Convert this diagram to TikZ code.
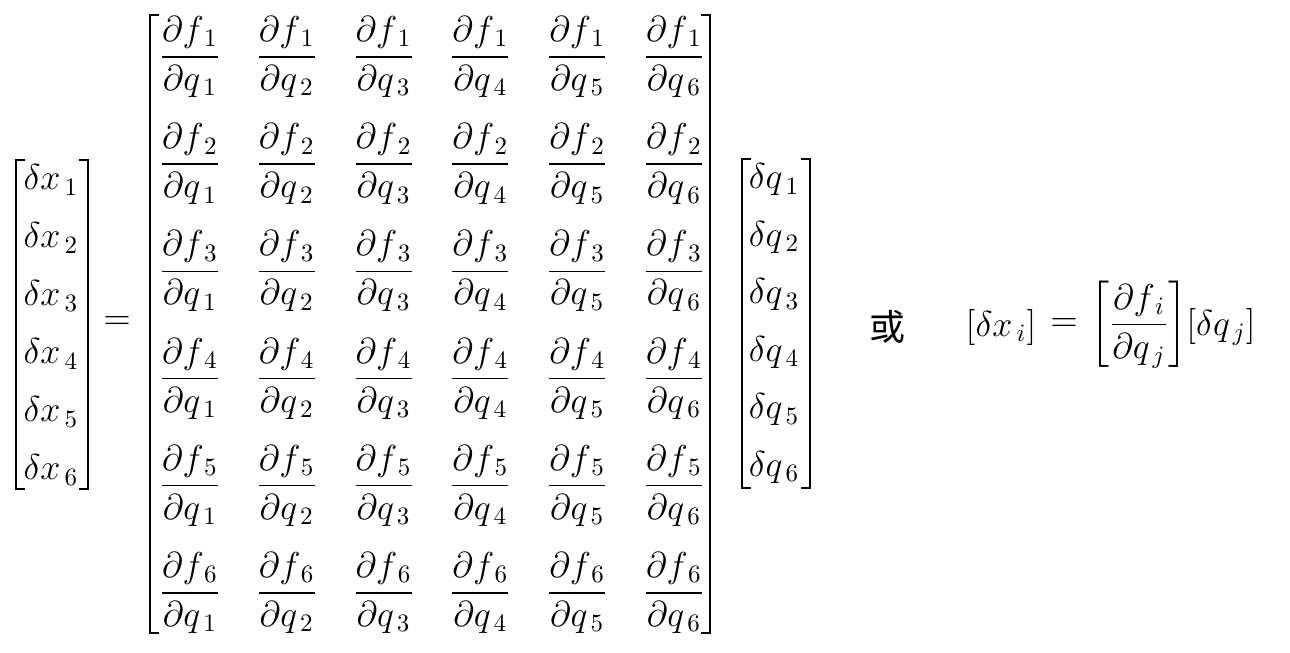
\documentclass[tikz,border=0pt]{standalone}
\usepackage{amsmath}
\usepackage{fontspec}
\newfontfamily\cjk{Noto Sans CJK SC}
\tikzset{
  entry/.style={inner sep=0pt, font=\Large},
  brk/.style={line width=0.6pt},
}
% left x, top y, right x, bottom y
\newcommand{\matbracket}[4]{%
  \draw[brk] (#1+9,#2) -- (#1,#2) -- (#1,#4) -- (#1+9,#4);
  \draw[brk] (#3-9,#2) -- (#3,#2) -- (#3,#4) -- (#3-9,#4);
}

\begin{document}
\begin{tikzpicture}[x=0.4pt,y=-0.4pt]
    \useasboundingbox (0,0) rectangle (1290,652);

    % left vector
    \foreach \i in {1,...,6}
        \draw (51,{180+58*(\i-1)}) node [entry] (dx\i) {$\delta x_{\,\i}$} ;
    \matbracket{16}{160}{88}{489}

    \draw (117,323) node [entry] (eq) {$=$} ;

    % jacobian
    \foreach \i in {1,...,6}
        \foreach \j in {1,...,6}
            \draw ({190+96.8*(\j-1)},{57+107.2*(\i-1)}) node [entry] (f\i\j)
                {$\dfrac{\partial f_{\,\i}}{\partial q_{\,\j}}$} ;
    \matbracket{150}{15}{710}{633}

    % right vector
    \foreach \i in {1,...,6}
        \draw (774,{180+57.4*(\i-1)}) node [entry] (dq\i) {$\delta q_{\,\i}$} ;
    \matbracket{742}{159}{810}{488}

    \draw (887,327) node [entry] (or) {\cjk 或} ;

    \draw (1001,327) node [entry] (dxi) {$[\delta x_{\,i}]$} ;
    \draw (1064,325) node [entry] (eqr) {$=$} ;
    \draw (1139,325) node [entry] (jac) {$\left[\dfrac{\partial f_{\,i}}{\partial q_{\,j}}\right]$} ;
    \draw (1221,327) node [entry] (dqj) {$[\delta q_{\,j}]$} ;
\end{tikzpicture}
\end{document}
